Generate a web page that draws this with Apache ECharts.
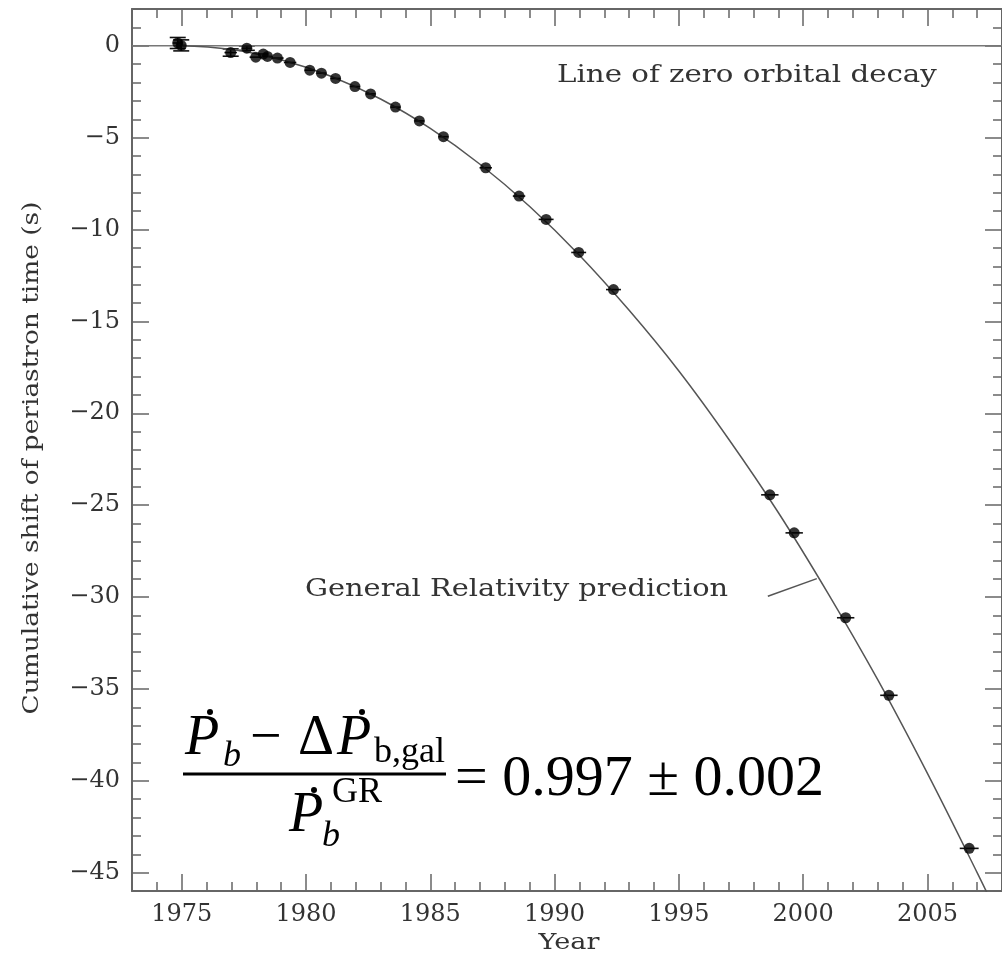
<!DOCTYPE html>
<html>
<head>
<meta charset="utf-8">
<title>Cumulative shift of periastron time</title>
<script src="https://cdn.jsdelivr.net/npm/echarts@6.0.0/dist/echarts.min.js"></script>
<style>
  html, body { margin: 0; padding: 0; background: #fff; }
  #chart { width: 1002px; height: 956px; }
</style>
</head>
<body>
<div id="chart"></div>
<script>
// measured timing points (year, shift in s) with error half-widths
var years = [1974.84, 1974.98, 1976.97, 1977.62, 1977.98, 1978.28, 1978.45, 1978.85, 1979.36,
  1980.15, 1980.62, 1981.19, 1981.97, 1982.6, 1983.6, 1984.56, 1985.53, 1987.23, 1988.57,
  1989.66, 1990.97, 1992.37, 1998.66, 1999.64, 2001.71, 2003.45, 2006.68]
var shifts = [0.15, 0.02, -0.37, -0.13, -0.62, -0.45, -0.58, -0.67, -0.91,
  -1.33, -1.49, -1.78, -2.22, -2.62, -3.34, -4.09, -4.95, -6.64, -8.18,
  -9.45, -11.25, -13.27, -24.44, -26.51, -31.13, -35.35, -43.68]
var yearErr = [0.2, 0.2, 0.25, 0.2, 0.25, 0.2, 0.2, 0.25, 0.25,
  0.2, 0.2, 0.2, 0.2, 0.2, 0.2, 0.2, 0.2, 0.25, 0.25,
  0.3, 0.3, 0.3, 0.35, 0.35, 0.35, 0.35, 0.38]
var shiftErr = [0.3, 0.3, 0.2, 0.12, 0, 0, 0, 0, 0,
  0, 0, 0, 0, 0, 0, 0, 0, 0, 0,
  0, 0, 0, 0, 0, 0, 0, 0]

// GR prediction curve
var grYears = [1974.9, 1977, 1979, 1981, 1983, 1985, 1987, 1989, 1991, 1993, 1995, 1997, 1999, 2001, 2003, 2005, 2007, 2008]
var grShifts = [0, -0.2, -0.76, -1.66, -2.9, -4.5, -6.45, -8.75, -11.4, -14.4, -17.7, -21.4, -25.4, -29.8, -34.5, -39.6, -45.0, -47.8]

// zero decay line and the leader of the GR label
var zeroYears = [1973, 2008]
var zeroShifts = [0, 0]
var leaderYears = [1998.58, 2000.55]
var leaderShifts = [-29.96, -29.0]

// axis ticks
var xMajor = [1975, 1980, 1985, 1990, 1995, 2000, 2005]
var yMajor = [-45, -40, -35, -30, -25, -20, -15, -10, -5, 0]
var xMin = 1973, xMax = 2008
var yMin = -46, yMax = 2

var xMinor = []
for (var i = xMin; i <= xMax; i++) xMinor.push(i)
var yMinor = []
for (var j = yMin; j <= yMax; j++) yMinor.push(j)

var points = years.map(function(y, k) { return [y, shifts[k], yearErr[k], shiftErr[k]] })
var grLine = grYears.map(function(y, k) { return [y, grShifts[k]] })
var zeroLine = zeroYears.map(function(y, k) { return [y, zeroShifts[k]] })
var leader = leaderYears.map(function(y, k) { return [y, leaderShifts[k]] })

var frameColor = '#666'
var labelFont = 'DejaVu Serif'
var mathFont = '"Liberation Serif", "Times New Roman", serif'

function minus(v) {
  return String(v).replace('-', '\u2212')
}

function xAxisOf(pos, ticks, len, showLine, showLabel) {
  return {
    type: 'value', min: xMin, max: xMax, position: pos,
    axisLine: { show: showLine, onZero: false, lineStyle: { color: frameColor, width: 2 } },
    axisTick: { show: true, inside: true, length: len, customValues: ticks, lineStyle: { color: frameColor, width: 1.5 } },
    axisLabel: showLabel ? {
      show: true, customValues: ticks, margin: 12, fontFamily: labelFont, fontSize: 24, color: '#333',
      formatter: function(v) { return String(v) }
    } : { show: false },
    splitLine: { show: false }
  }
}

function yAxisOf(pos, ticks, len, showLine, showLabel) {
  return {
    type: 'value', min: yMin, max: yMax, position: pos,
    axisLine: { show: showLine, onZero: false, lineStyle: { color: frameColor, width: 2 } },
    axisTick: { show: true, inside: true, length: len, customValues: ticks, lineStyle: { color: frameColor, width: 1.5 } },
    axisLabel: showLabel ? { show: true, customValues: ticks, margin: 12, fontFamily: labelFont, fontSize: 24, color: '#333', formatter: minus } : { show: false },
    splitLine: { show: false }
  }
}

function renderErr(params, api) {
  var x = api.value(0), y = api.value(1), ex = api.value(2), ey = api.value(3)
  var l = api.coord([x - ex, y]), r = api.coord([x + ex, y])
  var style = { stroke: '#111', lineWidth: 1.6 }
  var kids = [{ type: 'line', shape: { x1: l[0], y1: l[1], x2: r[0], y2: r[1] }, style: style }]
  if (ey > 0) {
    var t = api.coord([x, y + ey]), b = api.coord([x, y - ey])
    kids.push({ type: 'line', shape: { x1: t[0], y1: t[1], x2: b[0], y2: b[1] }, style: style })
    kids.push({ type: 'line', shape: { x1: t[0] - 8, y1: t[1], x2: t[0] + 8, y2: t[1] }, style: style })
    kids.push({ type: 'line', shape: { x1: b[0] - 8, y1: b[1], x2: b[0] + 8, y2: b[1] }, style: style })
  }
  return { type: 'group', children: kids }
}

function txt(str, x, y, size, opts) {
  opts = opts || {}
  return {
    type: 'text', x: x, y: y, rotation: opts.rotation || 0, scaleX: opts.stretch || 1, silent: true,
    style: {
      text: str, fill: opts.color || '#000',
      font: (opts.italic ? 'italic ' : '') + size + 'px ' + (opts.family || mathFont),
      textAlign: opts.align || 'left', textVerticalAlign: 'middle'
    }
  }
}

function dot(x, y) {
  return { type: 'circle', silent: true, shape: { cx: x, cy: y, r: 3 }, style: { fill: '#000' } }
}

var chart = echarts.init(document.getElementById('chart'), null, { renderer: 'canvas' })

chart.setOption({
  backgroundColor: '#fff',
  animation: false,
  grid: { left: 132, top: 9, width: 873, height: 882, containLabel: false },
  xAxis: [
    xAxisOf('bottom', xMajor, 17, true, true),
    xAxisOf('bottom', xMinor, 9, false, false),
    xAxisOf('top', xMajor, 17, true, false),
    xAxisOf('top', xMinor, 9, false, false)
  ],
  yAxis: [
    yAxisOf('left', yMajor, 17, true, true),
    yAxisOf('left', yMinor, 9, false, false),
    yAxisOf('right', yMajor, 17, true, false),
    yAxisOf('right', yMinor, 9, false, false)
  ],
  series: [
    {
      type: 'line', data: zeroLine, symbol: 'none', silent: true,
      lineStyle: { color: '#777', width: 1.5 }
    },
    {
      type: 'line', data: grLine, symbol: 'none', smooth: 0.4, silent: true, clip: true,
      lineStyle: { color: '#555', width: 1.5 }
    },
    {
      type: 'line', data: leader, symbol: 'none', silent: true,
      lineStyle: { color: '#555', width: 1.5 }
    },
    {
      type: 'custom', data: points, renderItem: renderErr, silent: true, z: 3
    },
    {
      type: 'scatter', data: points, symbol: 'circle', symbolSize: 11, silent: true, z: 4,
      itemStyle: { color: '#000' }
    }
  ],
  graphic: [
    // annotations: the original lettering is wider than DejaVu, so stretch it a bit
    txt('Line of zero orbital decay', 557, 76, 24, { family: labelFont, color: '#333', stretch: 1.22 }),
    txt('General Relativity prediction', 305, 590, 24, { family: labelFont, color: '#333', stretch: 1.2 }),
    txt('Year', 569, 943, 23, { family: labelFont, color: '#333', align: 'center', stretch: 1.18 }),
    txt('Cumulative shift of periastron time (s)', 32, 458, 22, { family: labelFont, color: '#333', align: 'center', rotation: Math.PI / 2, stretch: 1.2 }),
    // numerator
    txt('P', 185, 739, 56, { italic: true }),
    dot(210, 712),
    txt('b', 223, 757, 36, { italic: true }),
    txt('\u2212', 250, 739, 56),
    txt('\u0394', 298, 739, 56),
    txt('P', 337, 739, 56, { italic: true }),
    dot(362, 712),
    txt('b,gal', 374, 753, 36),
    { type: 'line', silent: true, shape: { x1: 183, y1: 774, x2: 446, y2: 774 }, style: { stroke: '#000', lineWidth: 3 } },
    // denominator
    txt('P', 289, 816, 56, { italic: true }),
    dot(314, 790),
    txt('b', 322, 837, 36, { italic: true }),
    txt('GR', 332, 793, 36),
    txt('= 0.997 \u00b1 0.002', 455, 780, 58)
  ]
})
</script>
</body>
</html>
